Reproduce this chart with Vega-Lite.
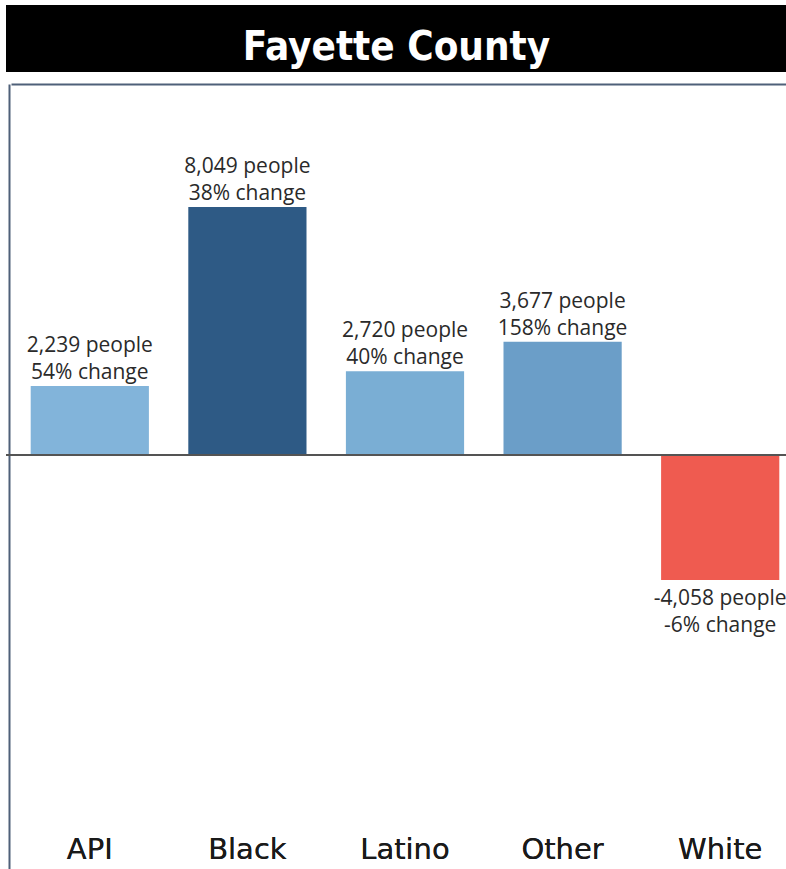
{
  "$schema": "https://vega.github.io/schema/vega-lite/v6.json",
  "padding": {"left": 5, "top": 5, "right": 0, "bottom": 0},
  "background": "white",
  "spacing": 12,
  "config": {"view": {"stroke": null}},
  "datasets": {
    "groups": [
      {"group": "API", "value": 2239, "label": "2,239 people\n54% change"},
      {"group": "Black", "value": 8049, "label": "8,049 people\n38% change"},
      {"group": "Latino", "value": 2720, "label": "2,720 people\n40% change"},
      {"group": "Other", "value": 3677, "label": "3,677 people\n158% change"},
      {"group": "White", "value": -4058, "label": "-4,058 people\n-6% change"}
    ],
    "heading": [{"title": "Fayette County"}]
  },
  "vconcat": [
    {
      "width": 781,
      "height": 67,
      "view": {"fill": "black", "stroke": null},
      "data": {"name": "heading"},
      "mark": {"type": "text", "color": "white", "font": "DejaVu Sans Condensed, sans-serif", "fontWeight": "bold", "fontSize": 40, "baseline": "middle", "align": "center", "dy": 9},
      "encoding": {"text": {"field": "title"}}
    },
    {
      "width": 781,
      "height": 785,
      "data": {"name": "groups"},
      "encoding": {
        "x": {
          "field": "group", "type": "nominal", "sort": null,
          "scale": {"range": [5, 793], "paddingInner": 0.25, "paddingOuter": 0.125},
          "axis": {"orient": "bottom", "title": null, "domain": false, "ticks": false, "tickSize": 0, "labelAngle": 0, "labelFont": "DejaVu Sans", "labelFontSize": 29, "labelColor": "#1a1a1a", "labelBaseline": "alphabetic", "labelPadding": -11}
        },
        "y": {
          "field": "value", "type": "quantitative",
          "scale": {"domain": [-13437, 12042], "nice": false, "zero": false},
          "axis": {"title": null, "labels": false, "ticks": false, "grid": false, "domain": true, "domainColor": "#4f6079", "domainWidth": 2, "offset": -3}
        }
      },
      "layer": [
        {
          "mark": {"type": "bar"},
          "encoding": {
            "color": {
              "field": "group", "type": "nominal", "legend": null,
              "scale": {"domain": ["API", "Black", "Latino", "Other", "White"], "range": ["#82b4da", "#2e5a85", "#7aaed4", "#6b9ec8", "#ef5b50"]}
            }
          }
        },
        {
          "mark": {"type": "rule", "color": "#555555", "strokeWidth": 1.5},
          "encoding": {"y": {"datum": 0}, "x": null}
        },
        {
          "transform": [{"filter": "datum.value >= 0"}],
          "mark": {"type": "text", "font": "Open Sans", "fontSize": 21, "lineHeight": 27, "lineBreak": "\n", "baseline": "bottom", "dy": -30, "color": "#2a2a2a"},
          "encoding": {
            "text": {"field": "label"},
            "x": {"field": "group", "type": "nominal", "sort": null, "axis": {"orient": "top", "title": null, "labels": false, "ticks": false, "grid": false, "domain": true, "domainColor": "#4f6079", "domainWidth": 2}}
          }
        },
        {
          "transform": [{"filter": "datum.value < 0"}],
          "mark": {"type": "text", "font": "Open Sans", "fontSize": 21, "lineHeight": 27, "lineBreak": "\n", "baseline": "top", "dy": 8, "color": "#2a2a2a"},
          "encoding": {"text": {"field": "label"}}
        }
      ],
      "resolve": {"axis": {"x": "independent"}}
    }
  ]
}
